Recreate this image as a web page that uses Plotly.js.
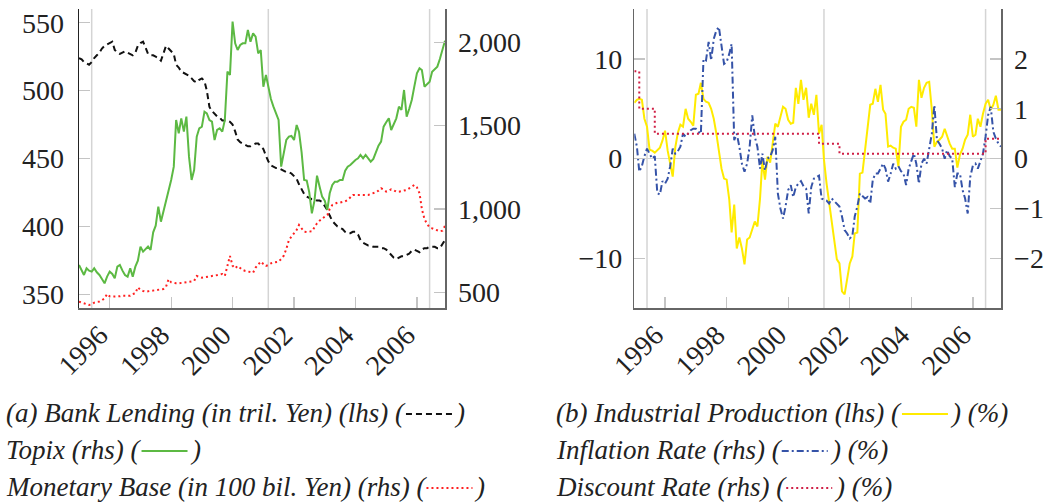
<!DOCTYPE html>
<html><head><meta charset="utf-8">
<script src="https://cdn.plot.ly/plotly-3.0.1.min.js"></script>
<style>html,body{margin:0;padding:0;background:#fff;}#chart{width:1053px;height:504px;}</style>
</head><body><div id="chart"></div>
<script>
// Monthly observations, January 1995 onwards
const startYear = 1995;
const bankLending = [
524,523,521,520,519,521,524,526,528,531,533,534,
535,536,530,528,527,528,529,528,527,526,528,533,
535,536,532,527,526,526,525,524,522,527,533,531,
529,527,519,517,514,513,512,511,509,507,506,508,
509,507,500,488,485,483,481,480,478,478,478,477,
475,470,464,462,461,460,459,459,460,461,461,459,
457,452,448,445,444,443,443,442,441,440,440,439,
437,435,431,427,424,422,421,420,420,419,419,418,
415,412,408,404,402,400,399,398,396,395,395,396,
396,394,390,388,387,386,386,385,385,385,384,384,
383,381,379,377,376,377,378,378,379,380,382,383,
382,381,383,384,384,385,385,385,384,384,387,390];
const topix = [
664,630,604,644,630,624,644,620,604,580,554,594,
624,610,584,654,664,630,604,594,644,594,654,690,
774,744,760,774,754,860,900,1014,924,984,1060,1110,
1174,1254,1534,1454,1544,1464,1554,1314,1174,1234,1434,1484,
1494,1584,1574,1534,1524,1414,1474,1484,1464,1534,1824,1804,
2124,1994,1954,1984,1994,1994,2074,2004,2054,2034,1934,1954,
1734,1804,1724,1660,1614,1570,1534,1254,1340,1414,1434,1438,
1414,1504,1464,1340,1174,1170,1100,974,1050,1200,1134,1074,
1050,994,1094,1144,1164,1164,1174,1174,1230,1254,1264,1280,
1294,1304,1324,1304,1324,1304,1284,1300,1344,1380,1404,1494,
1520,1544,1474,1510,1544,1614,1594,1714,1554,1600,1654,1734,
1814,1844,1834,1734,1750,1764,1824,1840,1854,1900,1960,2010];
const monetaryBase = [
444,438,434,430,424,428,438,442,444,452,464,490,
476,474,474,474,476,480,480,478,480,490,494,530,
514,508,504,506,508,510,510,512,514,520,534,578,
560,556,554,554,556,558,560,562,566,568,598,592,
588,590,594,596,598,600,604,608,610,598,664,718,
660,644,658,646,634,628,624,620,618,648,666,684,
670,658,664,674,678,682,684,700,720,760,814,834,
854,874,904,880,864,862,864,866,890,914,930,944,
954,964,1000,1024,1030,1038,1038,1040,1046,1054,1070,1084,
1084,1084,1086,1088,1086,1084,1090,1094,1100,1110,1124,1116,
1104,1110,1118,1112,1104,1104,1106,1108,1114,1124,1134,1144,
1130,1094,1000,940,910,890,884,878,874,866,870,898];
const industrialProduction = [
5.6,5.9,6.0,5.9,4.0,3.2,0.9,0.8,0.6,0.9,1.1,1.8,
2.8,0.8,-0.5,-1.8,1.1,2.6,3.4,3.2,5.0,4.0,3.7,3.3,
6.4,6.5,7.6,6.0,5.7,5.6,5.0,4.0,2.5,0.9,-1.0,-2.0,
-2.1,-4.1,-7.4,-4.6,-9.0,-7.9,-9.0,-10.6,-8.1,-7.9,-7.0,-6.3,
-6.8,-4.0,-0.2,-2.1,0.2,-0.4,1.5,3.5,3.2,4.2,5.2,5.0,
3.9,3.5,3.6,7.1,5.5,7.9,5.9,7.1,4.1,5.5,4.4,6.4,
2.5,3.4,-0.1,-2.5,-4.4,-6.3,-7.8,-10.1,-10.5,-13.3,-13.6,-12.0,
-10.5,-9.8,-7.5,-7.4,-1.5,-1.4,1.0,3.2,5.4,5.5,7.0,5.7,
7.4,4.9,4.5,1.2,1.3,1.1,1.0,-0.8,3.2,3.7,3.9,5.0,
5.2,5.1,3.2,7.9,6.1,7.1,7.6,7.7,4.9,1.2,1.7,1.9,
2.2,3.0,2.2,1.5,1.0,1.0,-0.9,0.4,1.0,1.9,2.4,4.4,
2.2,2.4,4.0,3.2,4.5,5.5,5.9,4.9,5.4,6.3,4.9,4.9];
const inflationRate = [
0.5,0.24,-0.26,-0.15,0.05,0.2,0.1,0.0,0.05,-0.69,-0.72,-0.45,
-0.5,-0.4,-0.16,0.2,0.1,0.15,0.24,0.5,0.44,0.5,0.57,0.6,
0.6,0.54,0.5,2.0,1.97,2.34,1.97,2.4,2.57,2.64,2.2,1.9,
1.94,2.1,2.3,0.37,0.5,0.24,-0.1,-0.26,-0.1,0.24,0.87,0.44,
0.24,-0.2,0.1,-0.24,0.0,0.04,0.17,0.44,-0.7,-1.0,-1.2,-0.96,
-0.63,-0.53,-0.77,-0.57,-0.5,-0.45,-0.55,-0.6,-1.1,-0.57,-0.4,-0.37,
-0.34,-0.8,-0.82,-0.84,-0.9,-0.8,-0.85,-0.9,-0.96,-1.16,-1.43,-1.5,
-1.6,-1.55,-1.16,-0.96,-0.7,-0.75,-0.8,-0.77,-0.9,-0.43,-0.3,-0.3,
-0.2,-0.1,-0.2,-0.46,-0.3,-0.1,-0.2,-0.15,-0.25,-0.3,-0.53,-0.2,
-0.05,0.1,-0.1,-0.5,-0.1,0.0,-0.1,0.17,0.5,1.07,0.37,0.3,
0.2,0.0,0.17,0.05,0.0,-0.57,-0.3,-0.3,-0.63,-0.8,-1.1,-0.37,
-0.14,-0.1,-0.2,-0.05,0.1,0.44,0.87,1.04,0.54,0.4,0.3,0.24];
const discountRate = [
1.75,1.75,1.0,1.0,1.0,1.0,1.0,1.0,0.5,0.5,0.5,0.5,
0.5,0.5,0.5,0.5,0.5,0.5,0.5,0.5,0.5,0.5,0.5,0.5,
0.5,0.5,0.5,0.5,0.5,0.5,0.5,0.5,0.5,0.5,0.5,0.5,
0.5,0.5,0.5,0.5,0.5,0.5,0.5,0.5,0.5,0.5,0.5,0.5,
0.5,0.5,0.5,0.5,0.5,0.5,0.5,0.5,0.5,0.5,0.5,0.5,
0.5,0.5,0.5,0.5,0.5,0.5,0.5,0.5,0.5,0.5,0.5,0.5,
0.3,0.3,0.3,0.3,0.3,0.3,0.3,0.3,0.1,0.1,0.1,0.1,
0.1,0.1,0.1,0.1,0.1,0.1,0.1,0.1,0.1,0.1,0.1,0.1,
0.1,0.1,0.1,0.1,0.1,0.1,0.1,0.1,0.1,0.1,0.1,0.1,
0.1,0.1,0.1,0.1,0.1,0.1,0.1,0.1,0.1,0.1,0.1,0.1,
0.1,0.1,0.1,0.1,0.1,0.1,0.1,0.1,0.1,0.1,0.1,0.1,
0.1,0.1,0.1,0.1,0.1,0.4,0.4,0.4,0.4,0.4,0.4,0.4];
const tickYears = ['1996','1998','2000','2002','2004','2006'];
const markerDates = ['1995-06-01','2001-03-01','2006-06-01'];
const leftLhsTicks = [350,400,450,500,550];
const leftRhsTicks = [500,1000,1500,2000];
const rightLhsTicks = [-10,0,10];
const rightRhsTicks = [-2,-1,0,1,2];
const xStart = '1995-01-01', xEnd = '2006-12-01';
const legendLeft = [
  ['(a) Bank Lending (in tril. Yen) (lhs) (', ')'],
  ['Topix (rhs) (', ')'],
  ['Monetary Base (in 100 bil. Yen) (rhs) (', ')']];
const legendRight = [
  ['(b) Industrial Production (lhs) (', ') (%)'],
  ['Inflation Rate (rhs) (', ') (%)'],
  ['Discount Rate (rhs) (', ') (%)']];

const months = bankLending.map((_, i) => {
  const y = startYear + Math.floor(i / 12), m = (i % 12) + 1;
  return y + '-' + String(m).padStart(2, '0') + '-01';
});

const W = 1053, H = 504;
const fx = p => p / W, fy = p => 1 - p / H;
const SERIF = '"Liberation Serif", "Times New Roman", serif';

const styles = {
  bank: {color: '#111111', width: 2, dash: '6px,4px'},
  topix: {color: '#5cb943', width: 2},
  mb: {color: '#ff1f1f', width: 2, dash: '2px,3px'},
  ip: {color: '#ffeb00', width: 2},
  infl: {color: '#3553a8', width: 2, dash: '7px,3px,2px,3px'},
  disc: {color: '#cf1f45', width: 2, dash: '2px,3px'}
};

const traces = [
  {x: months, y: topix, xaxis: 'x', yaxis: 'y2', mode: 'lines', line: styles.topix},
  {x: months, y: monetaryBase, xaxis: 'x', yaxis: 'y2', mode: 'lines', line: styles.mb},
  {x: months, y: bankLending, xaxis: 'x', yaxis: 'y', mode: 'lines', line: styles.bank},
  {x: months, y: inflationRate, xaxis: 'x2', yaxis: 'y4', mode: 'lines', line: styles.infl},
  {x: months, y: industrialProduction, xaxis: 'x2', yaxis: 'y3', mode: 'lines', line: styles.ip},
  {x: months, y: discountRate, xaxis: 'x2', yaxis: 'y4', mode: 'lines', line: Object.assign({shape: 'hv'}, styles.disc)}
];

const tickFont = {family: SERIF, size: 28, color: '#222'};
const xTickFont = {family: SERIF, size: 28, color: '#222'};
const tickCol = '#c4c4c4';
const axisCol = '#666';
const yDom = [fy(308.3), fy(9)];

function xAxis(domain, anchor) {
  return {domain: domain, anchor: anchor, type: 'date', range: [xStart, xEnd],
    tickmode: 'array', tickvals: tickYears.map(y => y + '-01-01'),
    ticktext: tickYears.map(y => y + '\u00a0\u00a0'),
    tickangle: -45, ticks: 'inside', ticklen: 11, tickwidth: 1.3, tickcolor: tickCol,
    showline: true, linecolor: axisCol, linewidth: 1.5, showgrid: false, zeroline: false,
    tickfont: xTickFont, ticklabelstandoff: -12};
}
function yAxis(opts) {
  return Object.assign({domain: yDom, ticks: 'inside', ticklen: 11, tickwidth: 1.3, tickcolor: tickCol,
    showline: true, linewidth: 1.5, linecolor: axisCol, showgrid: false, zeroline: false, tickmode: 'array',
    tickfont: tickFont}, opts);
}

const layout = {
  width: W, height: H, margin: {l: 0, r: 0, t: 0, b: 0, pad: 0},
  font: {family: SERIF},
  paper_bgcolor: '#fff', plot_bgcolor: 'rgba(0,0,0,0)', showlegend: false, hovermode: false,
  xaxis: xAxis([fx(79), fx(445)], 'y'),
  yaxis: yAxis({anchor: 'x', range: [339.7, 560.1], tickvals: leftLhsTicks, linecolor: '#222', ticklabelstandoff: 8}),
  yaxis2: yAxis({anchor: 'x', overlaying: 'y', side: 'right', range: [404, 2200], tickvals: leftRhsTicks, tickformat: ',d', ticklabelstandoff: 6}),
  xaxis2: xAxis([fx(634.3), fx(1001)], 'y3'),
  yaxis3: yAxis({anchor: 'x2', range: [-15, 15], tickvals: rightLhsTicks, ticklabelstandoff: 5,
    zeroline: true, zerolinecolor: '#d2d2d2', zerolinewidth: 1.5}),
  yaxis4: yAxis({anchor: 'x2', overlaying: 'y3', side: 'right', range: [-3, 3], tickvals: rightRhsTicks, ticklabelstandoff: 6}),
  shapes: [], annotations: []
};

markerDates.forEach(d => {
  [['x', 'y domain'], ['x2', 'y3 domain']].forEach(([xr, yr]) => {
    layout.shapes.push({type: 'line', layer: 'below', xref: xr, yref: yr, x0: d, x1: d, y0: 0, y1: 1,
      line: {color: '#d4d4d4', width: 1.5}});
  });
});

// Legend built as text with inline line samples
const legFont = {family: SERIF, size: 27, color: '#222'};
const ctx = document.createElement('canvas').getContext('2d');
ctx.font = 'italic 27px ' + SERIF;
const tw = s => ctx.measureText(s).width;
const rowY = [413, 450, 487];
const sampleLen = 46, gap = 2;
function addLegend(rows, x0, lineStyles) {
  rows.forEach((r, i) => {
    const cy = rowY[i];
    layout.annotations.push({xref: 'paper', yref: 'paper', x: fx(x0), y: fy(cy), xanchor: 'left', yanchor: 'middle',
      text: '<i>' + r[0] + '</i>', showarrow: false, font: legFont, borderpad: 0, borderwidth: 0});
    const s0 = x0 + tw(r[0]) + gap, s1 = s0 + sampleLen;
    const st = lineStyles[i];
    layout.shapes.push({type: 'line', xref: 'paper', yref: 'paper', x0: fx(s0), x1: fx(s1), y0: fy(cy + 1), y1: fy(cy + 1),
      line: {color: st.color, width: st.width, dash: st.dash || 'solid'}});
    layout.annotations.push({xref: 'paper', yref: 'paper', x: fx(s1 + gap), y: fy(cy), xanchor: 'left', yanchor: 'middle',
      text: '<i>' + r[1] + '</i>', showarrow: false, font: legFont, borderpad: 0, borderwidth: 0});
  });
}
addLegend(legendLeft, 6, [styles.bank, styles.topix, styles.mb]);
addLegend(legendRight, 556, [styles.ip, styles.infl, styles.disc]);

Plotly.newPlot('chart', traces, layout, {staticPlot: true, displayModeBar: false});
</script></body></html>
